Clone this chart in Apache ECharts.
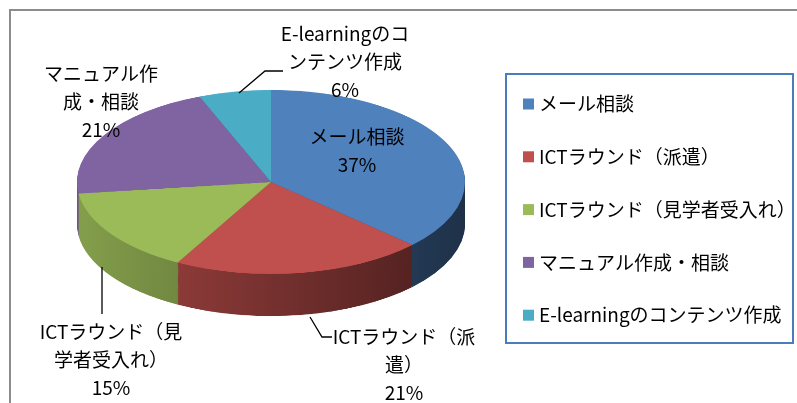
<!DOCTYPE html>
<html>
<head>
<meta charset="utf-8">
<script src="https://cdn.jsdelivr.net/npm/echarts@6/dist/echarts.min.js"></script>
<style>
  html, body { margin:0; padding:0; background:#fff; overflow:hidden; }
  #wrap { position:relative; width:797px; height:403px; overflow:hidden; }
  /* pie body is drawn round, then squashed into an ellipse */
  #pie3d { position:absolute; left:0; top:0; width:797px; height:850px; transform-origin:0 0; }
  #labels { position:absolute; left:0; top:0; width:797px; height:403px; }
</style>
</head>
<body>
<div id="wrap">
  <div id="pie3d"></div>
  <div id="labels"></div>
</div>
<script>
// categories / values
var names = ['メール相談', 'ICTラウンド（派遣）', 'ICTラウンド（見学者受入れ）', 'マニュアル作成・相談', 'E-learningのコンテンツ作成'];
var values = [37, 21, 15, 21, 6];
// label text as wrapped in the picture
var labelNames = ['メール相談', 'ICTラウンド（派\n遣）', 'ICTラウンド（見\n学者受入れ）', 'マニュアル作\n成・相談', 'E-learningのコ\nンテンツ作成'];
var colors = ['#4F81BD', '#C0504D', '#9BBB59', '#8064A2', '#4BACC6'];

var FONT = '"Noto Sans CJK JP", sans-serif';

// ellipse geometry (screen px)
var cx = 271, cy = 182, rx = 194, ry = 92, depth = 42;
var sy = ry / rx;
document.getElementById('pie3d').style.transform = 'scaleY(' + sy + ')';

function shade(hex, f) {
  var n = parseInt(hex.slice(1), 16);
  var r = Math.round(((n >> 16) & 255) * f), g = Math.round(((n >> 8) & 255) * f), b = Math.round((n & 255) * f);
  return 'rgb(' + r + ',' + g + ',' + b + ')';
}

function pieData(side) {
  return names.map(function (n, i) {
    var c = colors[i];
    if (side) {
      c = {
        type: 'linear', x: cx - rx, y: 0, x2: cx + rx, y2: 0, global: true,
        colorStops: [{ offset: 0, color: shade(colors[i], 0.85) }, { offset: 1, color: shade(colors[i], 0.38) }]
      };
    }
    return { name: n, value: values[i], itemStyle: { color: c } };
  });
}

var series = [];
var steps = 44;
for (var k = steps; k >= 1; k--) {
  var off = depth * k / steps;
  series.push({
    type: 'pie', silent: true, animation: false,
    center: [cx, (cy + off) / sy], radius: rx,
    startAngle: 90, clockwise: true,
    label: { show: false }, labelLine: { show: false },
    data: pieData(true)
  });
}
series.push({
  type: 'pie', silent: true, animation: false,
  center: [cx, cy / sy], radius: rx,
  startAngle: 90, clockwise: true,
  label: { show: false }, labelLine: { show: false },
  data: pieData(false)
});

var bodyChart = echarts.init(document.getElementById('pie3d'));
bodyChart.setOption({ animation: false, series: series });

// label placement: [centerX, centerY, leader line points or null]
var labelPos = [
  [357, 151, null],
  [404, 365, [[310, 317], [322, 337], [332, 337]]],
  [111, 360, [[102, 267], [102, 290], [102, 314]]],
  [101, 102, null],
  [345, 62, [[239, 93], [265, 71], [283, 71]]]
];

var labelChart = echarts.init(document.getElementById('labels'));
labelChart.setOption({
  animation: false,
  backgroundColor: 'transparent',
  graphic: [
    { type: 'rect', shape: { x: 10, y: 10, width: 820, height: 420 }, style: { fill: 'none', stroke: '#8C8C8C', lineWidth: 2 } },
    { type: 'rect', shape: { x: 506, y: 74, width: 287, height: 269 }, style: { fill: '#fff', stroke: '#4A7EBB', lineWidth: 2 } }
  ],
  legend: {
    orient: 'vertical',
    left: 518, top: 89,
    itemWidth: 11, itemHeight: 11, itemGap: 32.8,
    icon: 'rect',
    textStyle: { fontFamily: FONT, fontSize: 19, color: '#000', lineHeight: 20 },
    data: names.map(function (n, i) { return { name: n, itemStyle: { color: colors[i] } }; })
  },
  series: [{
    type: 'pie', animation: false, silent: true,
    center: [cx, cy], radius: ry,
    startAngle: 90, clockwise: true,
    percentPrecision: 0,
    itemStyle: { color: 'rgba(0,0,0,0)' },
    label: {
      show: true, position: 'outside', overflow: 'none', width: 300,
      fontFamily: FONT, fontSize: 19, lineHeight: 28, color: '#000', align: 'center',
      formatter: function (p) { return labelNames[p.dataIndex] + '\n' + p.percent + '%'; }
    },
    labelLine: { show: true, lineStyle: { color: '#000', width: 1.3 } },
    labelLayout: function (p) {
      var lp = labelPos[p.dataIndex];
      var out = { x: lp[0], y: lp[1], align: 'center', verticalAlign: 'middle' };
      if (lp[2]) out.labelLinePoints = lp[2];
      return out;
    },
    data: names.map(function (n, i) {
      return { name: n, value: values[i], labelLine: { show: !!labelPos[i][2] } };
    })
  }]
});
</script>
</body>
</html>
